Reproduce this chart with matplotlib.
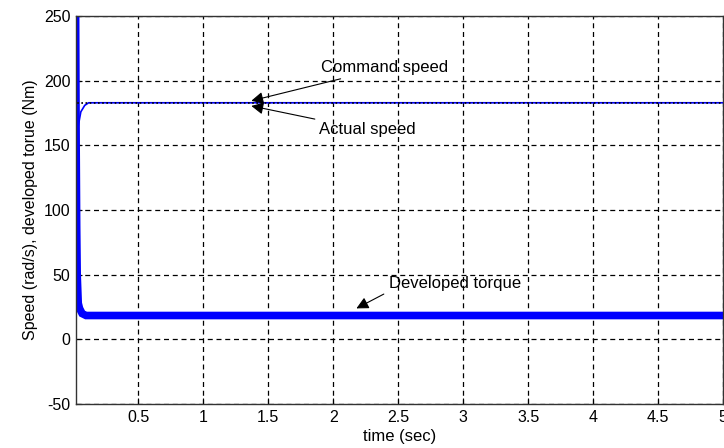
import matplotlib
matplotlib.use('Agg')
import matplotlib.pyplot as plt

plt.rcParams['font.family'] = ['Liberation Sans', 'DejaVu Sans']
plt.rcParams['axes.unicode_minus'] = False

# values
t_cmd = [0.0, 5.0]
cmd_speed = [183, 183]

t_speed = [0.0, 0.005, 0.012, 0.02, 0.03, 0.04, 0.06, 0.09, 0.12, 0.2, 1.0, 2.0, 3.0, 4.0, 5.0]
actual_speed = [0, 60, 115, 140, 155, 165, 176, 181, 183, 183, 183, 183, 183, 183, 183]

t_torque = [0.0, 0.02, 0.024, 0.028, 0.032, 0.04, 0.05, 0.07, 0.1, 5.0]
torque = [250, 250, 150, 87, 50, 28, 24, 20, 18.5, 18.5]

xticks = [0.5, 1, 1.5, 2, 2.5, 3, 3.5, 4, 4.5, 5]
yticks = [-50, 0, 50, 100, 150, 200, 250]

fig = plt.figure(figsize=(7.24, 4.48), dpi=100)
ax = fig.add_axes([0.105, 0.098, 0.894, 0.866])

ax.plot(t_torque, torque, color='#0000ff', linewidth=5.5, solid_joinstyle='miter')
ax.plot(t_torque, torque, color='#0000ff', linewidth=1.2)
ax.plot(t_speed, actual_speed, color='#0000ff', linewidth=1.2)
ax.plot(t_cmd, cmd_speed, color='black', linestyle=(0, (1, 1.5)), linewidth=1.2)

ax.set_xlim(0.023, 5)
ax.set_ylim(-50, 250)
ax.set_xticks(xticks)
ax.set_xticklabels(['0.5', '1', '1.5', '2', '2.5', '3', '3.5', '4', '4.5', '5'])
ax.set_yticks(yticks)
ax.grid(True, color='black', linestyle=(0, (4, 3)), linewidth=0.9)
ax.tick_params(direction='in', labelsize=11.5, length=4, pad=4)
for s in ax.spines.values():
    s.set_color('#333333')
    s.set_linewidth(1.0)

ax.set_xlabel('time (sec)', fontsize=12, labelpad=3)
ax.set_ylabel('Speed (rad/s), developed torue (Nm)', fontsize=11.5, labelpad=4)

arrow = dict(arrowstyle='-|>', color='black', lw=0.8, mutation_scale=18)
ax.annotate('Command speed', xy=(1.35, 184), xytext=(1.91, 210),
            fontsize=12, va='center', ha='left', arrowprops=arrow)
ax.annotate('Actual speed', xy=(1.35, 181), xytext=(1.89, 162),
            fontsize=12, va='center', ha='left', arrowprops=arrow)
ax.annotate('Developed torque', xy=(2.16, 23), xytext=(2.43, 43),
            fontsize=12, va='center', ha='left',
            arrowprops=dict(arrowstyle='-|>', color='black', lw=0.8,
                            mutation_scale=18, relpos=(0, 0)))

fig.savefig('out.png', dpi=100)
